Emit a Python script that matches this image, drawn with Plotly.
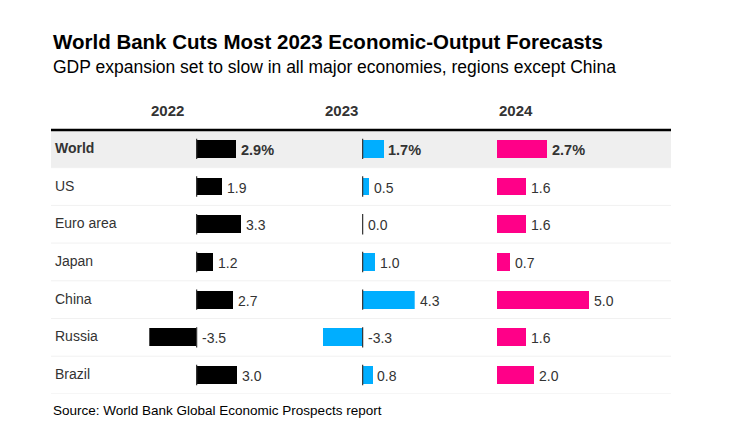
import plotly.graph_objects as go

countries = ["World", "US", "Euro area", "Japan", "China", "Russia", "Brazil"]
years = ["2022", "2023", "2024"]
vals_2022 = [2.9, 1.9, 3.3, 1.2, 2.7, -3.5, 3.0]
vals_2023 = [1.7, 0.5, 0.0, 1.0, 4.3, -3.3, 0.8]
vals_2024 = [2.7, 1.6, 1.6, 0.7, 5.0, 1.6, 2.0]
colors = ["#000000", "#00AEFF", "#FF0088"]

title = "World Bank Cuts Most 2023 Economic-Output Forecasts"
subtitle = "GDP expansion set to slow in all major economies, regions except China"
source = "Source: World Bank Global Economic Prospects report"

W, H = 734, 430
OFF = 8  # page body margin
FONT = "Liberation Sans, Arial, Helvetica, sans-serif"
TXT = "#333333"

def px(x):
    return (x - OFF) / W

def py(y):
    return 1 - (y - OFF) / H

col_starts = [149.3, 322.7, 497.0]
col_span = 92.0
table_left, table_right = 51, 671
row_top, row_h = 130.0, 37.7
n = len(countries)

fig = go.Figure()
series = [vals_2022, vals_2023, vals_2024]
layout_axes = {}
shapes = []
annotations = []

# Table background & lines
shapes.append(dict(type="rect", xref="paper", yref="y", x0=px(table_left), x1=px(table_right),
                   y0=-0.5, y1=0.5, fillcolor="#EFEFEF", line=dict(width=0), layer="below"))
for i in range(n):
    shapes.append(dict(type="line", xref="paper", yref="y", x0=px(table_left), x1=px(table_right),
                       y0=i + 0.5, y1=i + 0.5, line=dict(color="#F1F1F1", width=1), layer="below"))
shapes.append(dict(type="line", xref="paper", yref="paper", x0=px(table_left), x1=px(table_right),
                   y0=py(row_top), y1=py(row_top), line=dict(color="#000000", width=2.5)))

for k, (yr, vals, c) in enumerate(zip(years, series, colors)):
    ax = "x" if k == 0 else f"x{k+1}"
    axkey = "xaxis" if k == 0 else f"xaxis{k+1}"
    lo = min(0, min(vals))
    hi = max(0, max(vals))
    fig.add_trace(go.Bar(
        x=vals, y=list(range(n)), orientation="h", marker=dict(color=c, line=dict(width=0)),
        width=0.47, xaxis=ax, yaxis="y", hoverinfo="x", showlegend=False,
    ))
    layout_axes[axkey] = dict(domain=[px(col_starts[k]), px(col_starts[k] + col_span)],
                              range=[lo, hi], visible=False, fixedrange=True)
    if lo < 0:
        for i in range(n):
            shapes.append(dict(type="line", xref=ax, yref="y", x0=0, x1=0, y0=i - 0.27, y1=i + 0.27,
                               line=dict(color="#333333", width=1.2)))
    for i, v in enumerate(vals):
        bold = i == 0
        label = f"{v:.1f}%" if bold else f"{v:.1f}"
        annotations.append(dict(
            x=max(v, 0), y=i, xref=ax, yref="y", text=f"<b>{label}</b>" if bold else label,
            showarrow=False, xanchor="left", yanchor="middle", xshift=3, yshift=-1,
            font=dict(family=FONT, size=14.5 if bold else 14, color=TXT)))
    annotations.append(dict(
        x=px(col_starts[k]), y=py(110), xref="paper", yref="paper", text=f"<b>{yr}</b>",
        showarrow=False, xanchor="left", yanchor="middle",
        font=dict(family=FONT, size=15, color=TXT)))

for i, c in enumerate(countries):
    annotations.append(dict(
        x=px(53), y=i, xref="paper", yref="y", text=f"<b>{c}</b>" if i == 0 else c,
        showarrow=False, xanchor="left", yanchor="middle", yshift=1,
        font=dict(family=FONT, size=14, color=TXT)))

annotations.append(dict(x=px(51), y=py(42), xref="paper", yref="paper", text=f"<b>{title}</b>",
                        showarrow=False, xanchor="left", yanchor="middle",
                        font=dict(family=FONT, size=20.5, color="#000000")))
annotations.append(dict(x=px(51), y=py(67), xref="paper", yref="paper", text=subtitle,
                        showarrow=False, xanchor="left", yanchor="middle",
                        font=dict(family=FONT, size=17.5, color="#000000")))
annotations.append(dict(x=px(51), y=py(410), xref="paper", yref="paper", text=source,
                        showarrow=False, xanchor="left", yanchor="middle",
                        font=dict(family=FONT, size=13.5, color="#000000")))

fig.update_layout(
    width=W, height=H, margin=dict(l=0, r=0, t=0, b=0),
    paper_bgcolor="white", plot_bgcolor="rgba(0,0,0,0)",
    yaxis=dict(domain=[py(row_top + n * row_h), py(row_top)], range=[n - 0.5, -0.5],
               visible=False, fixedrange=True),
    shapes=shapes, annotations=annotations, bargap=0, showlegend=False,
    **layout_axes,
)

fig.write_html("out.html")
